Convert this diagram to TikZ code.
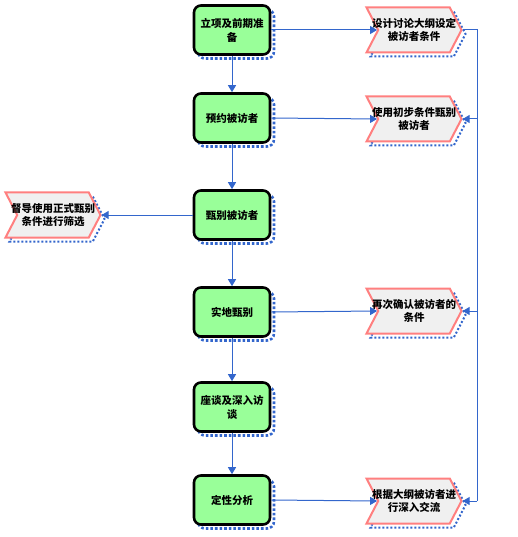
\documentclass[tikz,border=0pt]{standalone}
\usepackage{fontspec}
\setmainfont{Noto Sans CJK SC}
\usetikzlibrary{arrows.meta,shapes.symbols,shadows}
\definecolor{boxgreen}{HTML}{99FF99}
\definecolor{chevfill}{HTML}{F0F0F0}
\definecolor{chevline}{HTML}{FF7F7F}
\definecolor{lineblue}{HTML}{3366CC}
\newcommand\chl[1]{\makebox[60pt]{#1}}
\tikzset{
  stepbox/.style={draw=black, line width=2.6pt, rounded corners=7pt, fill=boxgreen,
    minimum width=76pt, minimum height=49pt, align=center, inner sep=1pt,
    font=\fontsize{10.5}{14}\selectfont\bfseries,
    drop shadow={shadow xshift=4pt, shadow yshift=-4pt, draw=lineblue, dotted, fill=none, opacity=1}},
  chev/.style={signal, signal to=east, signal from=west, signal pointer angle=125,
    draw=chevline, line width=2pt, fill=chevfill,
    minimum width=95pt, minimum height=45pt, align=center, inner sep=0pt,
    font=\fontsize{10.5}{13.5}\selectfont\bfseries,
    drop shadow={shadow xshift=4pt, shadow yshift=-4pt, draw=lineblue, dotted, fill=none, opacity=1}},
  conn/.style={draw=lineblue, line width=1pt, -{Triangle[length=7pt,width=8pt]}},
  plain/.style={draw=lineblue, line width=1pt}
}
\begin{document}
\begin{tikzpicture}[x=1pt,y=-1pt]
\useasboundingbox (0,0) rectangle (517,537);
% main steps
\node[stepbox] (b1) at (232,30) {立项及前期准\\备};
\node[stepbox] (b2) at (232,118) {预约被访者};
\node[stepbox] (b3) at (232,215) {甄别被访者};
\node[stepbox] (b4) at (232,312) {实地甄别};
\node[stepbox] (b5) at (232,407) {座谈及深入访\\谈};
\node[stepbox] (b6) at (232,500) {定性分析};
% side notes
\node[chev] (c1) at (414,30) {\chl{设计讨论大纲设定}\\\chl{被访者条件}};
\node[chev] (c2) at (414,119) {\chl{使用初步条件甄别}\\\chl{被访者}};
\node[chev] (c4) at (414,311) {\chl{再次确认被访者的}\\\chl{条件}};
\node[chev] (c6) at (414,501) {\chl{根据大纲被访者进}\\\chl{行深入交流}};
\node[chev] (c3) at (53,215) {\chl{督导使用正式甄别}\\\chl{条件进行筛选}};
% vertical flow
\draw[conn] (b1) -- (b2);
\draw[conn] (b2) -- (b3);
\draw[conn] (b3) -- (b4);
\draw[conn] (b4) -- (b5);
\draw[conn] (b5) -- (b6);
% to side notes
\draw[conn] (b1.east) -- (c1.west);
\draw[conn] (b2.east) -- (c2.west);
\draw[conn] (b4.east) -- (c4.west);
\draw[conn] (b6.east) -- (c6.west);
\draw[conn] (b3.west) -- (c3.east);
% right bus
\coordinate (bus1) at (477,30);
\coordinate (bus6) at (477,501);
\draw[plain] (c1.east) -- (bus1) -- (bus6);
\draw[conn] (bus6) -- (c6.east);
\draw[conn] (c2.east -| bus1) -- (c2.east);
\draw[conn] (c4.east -| bus1) -- (c4.east);
\end{tikzpicture}
\end{document}
